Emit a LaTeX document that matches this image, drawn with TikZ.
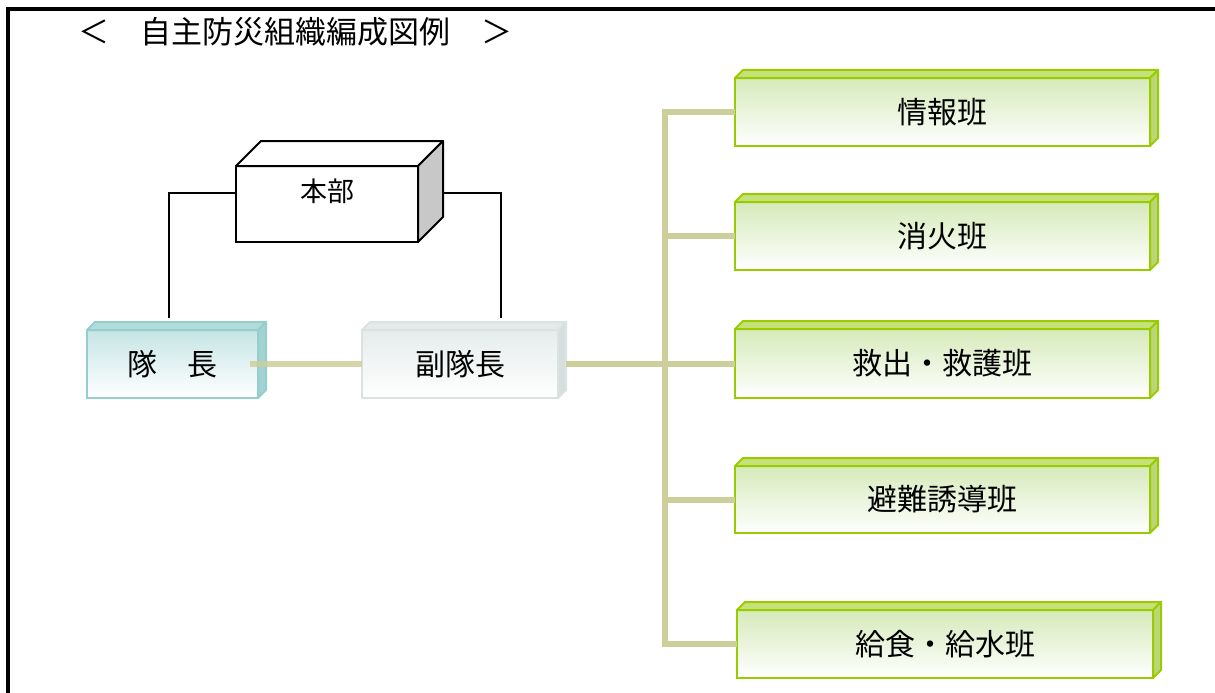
\documentclass[tikz,border=0pt]{standalone}
\usepackage{fontspec}
\setmainfont{Noto Sans CJK JP}
\usetikzlibrary{calc}
\definecolor{olivel}{RGB}{205,207,155}
\definecolor{grnline}{RGB}{153,204,0}
\definecolor{grntop}{RGB}{198,225,122}
\definecolor{grnside}{RGB}{186,214,118}
\definecolor{grnfill}{RGB}{214,234,186}
\definecolor{tealline}{RGB}{150,205,205}
\definecolor{tealtop}{RGB}{178,220,220}
\definecolor{tealside}{RGB}{162,210,210}
\definecolor{tealfill}{RGB}{198,229,229}
\definecolor{grayline}{RGB}{218,226,226}
\definecolor{graytop}{RGB}{228,234,234}
\definecolor{grayside}{RGB}{214,222,222}
\definecolor{grayfill}{RGB}{230,236,236}
\definecolor{hqside}{RGB}{200,200,200}
\newcommand\cubefaces[5]{%
  \filldraw[fill=#3,draw=#5,line width=2,line join=round] (#1.north west) -- ++(#2,-#2) -- ([shift={(#2,-#2)}]#1.north east) -- (#1.north east) -- cycle;
  \filldraw[fill=#4,draw=#5,line width=2,line join=round] (#1.north east) -- ++(#2,-#2) -- ([shift={(#2,-#2)}]#1.south east) -- (#1.south east) -- cycle;
}
\tikzset{
  basebox/.style={rectangle,outer sep=0pt,inner sep=0pt,line width=2,font=\fontsize{30}{32}\selectfont},
  greenbox/.style={basebox,draw=grnline,top color=grnfill,bottom color=white,minimum width=415,minimum height=68},
  tealbox/.style={basebox,draw=tealline,top color=tealfill,bottom color=white,minimum width=171,minimum height=68},
  graybox/.style={basebox,draw=grayline,top color=grayfill,bottom color=white,minimum width=196,minimum height=68},
  hqbox/.style={basebox,draw=black,fill=white,minimum width=182,minimum height=76,font=\fontsize{27}{29}\selectfont},
  oliveline/.style={draw=olivel,line width=6},
  thinline/.style={draw=black,line width=2},
}
\begin{document}
\begin{tikzpicture}[x=1pt,y=-1pt]
\useasboundingbox (0,0) rectangle (1215,693);
% frame
\draw[line width=3.5] (8,693) -- (8,9) -- (1215,9);
% title
\node[anchor=west,inner sep=0pt,font=\fontsize{31}{33}\selectfont] (title) at (78,32) {＜　自主防災組織編成図例　＞};
% headquarters
\node[hqbox] (hq) at (327,204) {\raisebox{27pt}{本部}};
\cubefaces{hq}{25}{white}{hqside}{black}
% leaders
\node[tealbox] (dt) at (172.5,364) {隊　長};
\cubefaces{dt}{8}{tealtop}{tealside}{tealline}
\node[graybox] (fkt) at (460,364) {副隊長};
\cubefaces{fkt}{8}{graytop}{grayside}{grayline}
% teams
\node[greenbox] (jh) at (942.5,112) {情報班};
\cubefaces{jh}{8}{grntop}{grnside}{grnline}
\node[greenbox] (sk) at (942.5,236) {消火班};
\cubefaces{sk}{8}{grntop}{grnside}{grnline}
\node[greenbox,minimum height=69] (kk) at (942.5,363.5) {救出・救護班};
\cubefaces{kk}{8}{grntop}{grnside}{grnline}
\node[greenbox,minimum height=67] (hn) at (942.5,499.5) {避難誘導班};
\cubefaces{hn}{8}{grntop}{grnside}{grnline}
\node[greenbox,minimum width=416] (ks) at (945,644) {給食・給水班};
\cubefaces{ks}{8}{grntop}{grnside}{grnline}
% connectors from HQ
\draw[thinline] ([yshift=11]hq.west) -| ([xshift=-3.5,yshift=12]dt.north);
\draw[thinline] ([xshift=25,yshift=11]hq.east) -| ([xshift=41,yshift=12]fkt.north);
% olive connectors
\coordinate (tr) at (665,0);
\draw[oliveline,opacity=0.85] ([xshift=-8]dt.east) -- (fkt.west);
\draw[oliveline] ([xshift=8]fkt.east) -- (fkt.east -| tr);
\draw[oliveline] (jh.west) -| (tr |- ks.west) -- (ks.west);
\draw[oliveline] (tr |- sk.west) -- (sk.west);
\draw[oliveline] (tr |- kk.west) -- (kk.west);
\draw[oliveline] (tr |- hn.west) -- (hn.west);
\end{tikzpicture}
\end{document}
